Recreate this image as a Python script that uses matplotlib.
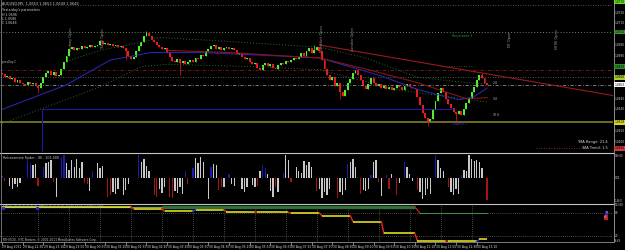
import matplotlib
matplotlib.use("Agg")
import matplotlib.pyplot as plt
from matplotlib.lines import Line2D
import numpy as np

# ---------------- data ----------------
first_open = 1.0664
closes = [
    1.0663, 1.0660, 1.0661, 1.0658, 1.0659, 1.0656, 1.0657, 1.0655, 1.0654, 1.0653,
    1.0656, 1.0654, 1.0655, 1.0652, 1.0650,
    1.0655, 1.0660, 1.0664,
    1.0666, 1.0662, 1.0665, 1.0661, 1.0662,
    1.0668, 1.0674,
    1.0680, 1.0686,
    1.0688, 1.0685, 1.0687, 1.0686, 1.0689, 1.0687, 1.0688, 1.0690, 1.0688, 1.0689, 1.0690,
    1.0694,
    1.0691, 1.0692, 1.0690, 1.0691, 1.0689, 1.0690, 1.0688, 1.0689, 1.0687,
    1.0684, 1.0680, 1.0677, 1.0679,
    1.0684, 1.0689, 1.0693, 1.0698, 1.0701,
    1.0698, 1.0695, 1.0693, 1.0690, 1.0688, 1.0686, 1.0687, 1.0683,
    1.0679, 1.0675, 1.0674,
    1.0677, 1.0673, 1.0675, 1.0672, 1.0674, 1.0676,
    1.0674, 1.0678, 1.0677, 1.0681, 1.0680, 1.0684, 1.0686, 1.0689, 1.0690,
    1.0686, 1.0688, 1.0685, 1.0687, 1.0688, 1.0686, 1.0687, 1.0685,
    1.0682, 1.0683, 1.0679, 1.0677, 1.0678, 1.0674, 1.0672, 1.0673, 1.0669, 1.0667,
    1.0671, 1.0673, 1.0670, 1.0672, 1.0669, 1.0668,
    1.0671, 1.0673, 1.0672, 1.0675, 1.0674, 1.0676, 1.0678, 1.0677, 1.0679,
    1.0683, 1.0680, 1.0684, 1.0687, 1.0683, 1.0685, 1.0688, 1.0684,
    1.0676, 1.0668, 1.0662, 1.0657,
    1.0660, 1.0652, 1.0655, 1.0646, 1.0643,
    1.0648, 1.0655, 1.0658, 1.0664, 1.0667,
    1.0662, 1.0657, 1.0652, 1.0649,
    1.0654, 1.0659, 1.0655, 1.0652,
    1.0654, 1.0650, 1.0652, 1.0649, 1.0651, 1.0648, 1.0650, 1.0653, 1.0651, 1.0648,
    1.0652, 1.0654, 1.0651, 1.0650, 1.0649,
    1.0642, 1.0634, 1.0627, 1.0622,
    1.0619, 1.0621,
    1.0630, 1.0638, 1.0645, 1.0650,
    1.0646, 1.0640, 1.0635, 1.0631, 1.0628,
    1.0626, 1.0629, 1.0625, 1.0630,
    1.0636, 1.0641, 1.0646, 1.0651,
    1.0657, 1.0662,
    1.0659, 1.0655, 1.0653,
]
wick_high = {56: 1.0703, 38: 1.0695, 186: 1.0664, 121: 1.0690}
wick_low = {14: 1.0645, 69: 1.0662, 131: 1.0640, 165: 1.0615, 176: 1.0617, 48: 1.0676}

# overlay indicator lines: (bar index, price)
ma_blue_i = [0, 25, 42, 58, 77, 115, 123, 146, 162, 177, 183, 188]
ma_blue_p = [1.0630, 1.0653, 1.0676, 1.0683, 1.0683, 1.0679, 1.0678, 1.0662, 1.0648, 1.0639, 1.0642, 1.0650]
band_up_i = [24, 38, 55, 61, 90, 123, 141, 161, 180, 188]
band_up_p = [1.0674, 1.0685, 1.0693, 1.0697, 1.0693, 1.0688, 1.0678, 1.0660, 1.0655, 1.0654]
band_lo_i = [0, 38, 54, 64, 96, 123, 154, 188]
band_lo_p = [1.0617, 1.0651, 1.0670, 1.0672, 1.0670, 1.0667, 1.0648, 1.0637]
tma_mid_i = [64, 88, 115, 123, 142, 161, 180, 188]
tma_mid_p = [1.0685, 1.0683, 1.0679, 1.0678, 1.0667, 1.0655, 1.0640, 1.0641]
trend_i = [123, 236.8]
trend_p = [1.0690, 1.0643]

# histogram (Retracement Finder)
hist_vals = [
    10, -18, 0, -50, -70, -40, -60, -30, 0, 0,
    120, 90, 80, 85, -50, 0, 70, 95, 100, 110,
    -25, -120, 0, 130, 140, 90, 50, 110, 70, 120,
    60, 100, -35, -40, -80, 40, 0, 90, 60, 75,
    0, -120, -110, -90, -100, -70, 0, -110, -75, -40,
    0, 0, 0, 140, 100, 120, 75, 45, 0, -110,
    -120, -70, -95, -60, 0, -120, -125, -80, -95, -60,
    -100, 45, -40, 0, 60, 125, 90, 130, 100, 0,
    -130, 70, 85, 80, -75, -60, -55, 0, 25, -40,
    -50, 0, 0, -70, -90, -55, 0, -45, -60, -50,
    45, 80, 60, 25, -80, -120, -60, -90, 0, 30,
    140, 110, -25, 0, 65, 45, 30, 105, 80, 100,
    70, 0, -80, -70, -125, -90, -110, -70, 0, 0,
    -125, -90, -110, -75, 85, 100, 120, 70, 0, -100,
    -75, -80, -70, 15, 100, 110, -25, -115, 0, 20,
    -70, 25, 0, -110, -35, 0, 100, 65, 25, -20,
    0, -75, -90, -130, -110, -70, -100, 0, 140, 110,
    60, 45, 0, -55, -90, -110, -70, -100, 20, 50,
    45, 140, 115, 105, 110, 100, 60, 0, -140,
]
hist_cols = ("brwwwwwwww" "bbwwrwbwww" "rwwbbwwwww" "wwrrwbwwww" "wrrwwwwwww"
             "wwwbwwwwwr" "rwwwwrrwww" "wbrwbwwwww" "wbwwrrwwbw" "wwwwwwwwwr"
             "wbbwwwrwwb" "wwrwwwwwww" "wwrwwwwwww" "rwwwbwwwwr" "wwwbwwrwwb"
             "rwwrwwbwww" "wrwwwwwwbw" "wwwrwwwwbw" "wwwwwwwwr")

# staircase indicator (bottom panel)
stair_start = [0, 51, 63, 75, 87, 99, 112, 124, 136, 148, 161, 173, 185]
stair_end = [50, 62, 74, 86, 98, 111, 123, 135, 147, 160, 172, 184, 188]
stair_val = [95, 91, 85, 88, 84, 82, 80, 73, 58, 27, 8, 6, 12]
band_start, band_end, band_val = 62, 160, 96
tail_start, tail_end, tail_val = 162, 188, 80

time_labels = ["29 Aug 2011", "29 Aug 22:30", "29 Aug 23:10", "29 Aug 23:50", "30 Aug 00:30",
               "30 Aug 01:10", "30 Aug 01:50", "30 Aug 02:30", "30 Aug 03:10", "30 Aug 03:50",
               "30 Aug 04:30", "30 Aug 05:10", "30 Aug 05:50", "30 Aug 06:30", "30 Aug 07:10",
               "30 Aug 07:50", "30 Aug 08:30", "30 Aug 09:10", "30 Aug 09:50", "30 Aug 10:30",
               "30 Aug 11:10", "30 Aug 11:50", "30 Aug 12:30", "30 Aug 13:10"]
time_label_idx = [8 * k for k in range(len(time_labels))]
hour_idx = [2 + 12 * k for k in range(1, 16)]

session_names = ["Sydney Open", "Tokyo Open", "Frankfurt Open", "London Open", "NY Open", "NYSE Open"]
session_idx = [26.7, 39.1, 124, 136, 197, 215]

axis_prices = [1.0720, 1.0710, 1.0690, 1.0680, 1.0640, 1.0630, 1.0610, 1.0600]
hl_prices = [1.0730, 1.0702, 1.0670, 1.0660, 1.0653, 1.0618, 1.0594]
hl_colors = ["#66dd22", "#3c9a2c", "#2f8f2f", "#a8d030", "#ffffff", "#d8d820", "#d23a3a"]

# ---------------- figure ----------------
W, H = 625, 250
RIGHT = 613
fig = plt.figure(figsize=(W / 100, H / 100), dpi=100, facecolor="black")
XL = (-0.775, 236.8)
P_TOP = 1.0650 + 88 / 10750
P_BOT = 1.0650 - 64 / 10750


def mk_ax(top, bottom, ylim):
    ax = fig.add_axes([0, 1 - bottom / H, RIGHT / W, (bottom - top) / H])
    ax.set_facecolor("black")
    ax.set_xlim(*XL)
    ax.set_ylim(*ylim)
    ax.set_xticks([])
    ax.set_yticks([])
    for s in ax.spines.values():
        s.set_visible(False)
    return ax


def ftext(x, y, s, **kw):
    kw.setdefault("fontsize", 2.3)
    kw.setdefault("color", "#d0d0d0")
    kw.setdefault("va", "center")
    return fig.text(x / W, 1 - y / H, s, **kw)


def price_y(p):
    return 88 - (p - 1.0650) * 10750


ax1 = mk_ax(0, 152, (P_BOT, P_TOP))
ax2 = mk_ax(152.5, 203, (-158, 158))
ax3 = mk_ax(203.5, 242, (4.5, 105))

# ---- main panel ----
dot = (0, (1, 2))
ax1.axhline(1.0727, color="#4f7a4f", ls=dot, lw=0.6)
ax1.axhline(1.0702, color="#5c8a5c", ls=dot, lw=0.7)
ax1.axhline(1.0667, color="#8b1a1a", ls=(0, (4, 2, 1, 2)), lw=0.6)
ax1.axhline(1.0660, color="#707070", ls=dot, lw=0.6)
ax1.axhline(1.0653, color="#8a8a8a", ls=(0, (4, 2, 1, 2)), lw=0.6)
ax1.axhline(1.0618, color="#6e6e1e", lw=1.4)
ax1.plot([15.5, 175], [1.0630, 1.0630], color="#1c1c9a", lw=0.8)
ax1.plot([15.5, 15.5], [1.0630, P_BOT], color="#1c1c9a", lw=0.8)
ax1.plot([170, 182], [1.0670, 1.0670], color="#2f6f2f", ls=dot, lw=0.6)
ax1.plot([207, 226], [1.05942, 1.05942], color="#b03030", ls=dot, lw=0.6)

ax1.plot(ma_blue_i, ma_blue_p, color="#2626a8", lw=0.8)
ax1.plot(band_up_i, band_up_p, color="#2f6a2f", ls=dot, lw=0.7)
ax1.plot(band_lo_i, band_lo_p, color="#2f6a2f", ls=dot, lw=0.7)
ax1.plot(tma_mid_i, tma_mid_p, color="#8a1515", lw=0.8)
ax1.plot(trend_i, trend_p, color="#9a1a1a", lw=0.8)

c = np.array(closes)
o = np.concatenate([[first_open], c[:-1]])
idx = np.arange(len(c))
hi = np.maximum(o, c)
lo = np.minimum(o, c)
for k, v in wick_high.items():
    if k < len(c):
        hi[k] = max(hi[k], v)
for k, v in wick_low.items():
    if k < len(c):
        lo[k] = min(lo[k], v)
bull = c >= o
cols = np.where(bull, "#4cf22a", "#ee1a1a")
ax1.vlines(idx, lo, hi, colors=cols, lw=0.5)
ax1.bar(idx, np.maximum(np.abs(c - o), 0.00005), bottom=np.minimum(o, c), width=0.75,
        color=cols, linewidth=0)

for s, xi in zip(session_names, session_idx):
    ax1.text(xi, 1.06956, s, rotation=90, fontsize=2.5, color="#9a9a9a",
             ha="center", va="center")

ftext(2, 4, "AUDUSD,M5  1.0653 1.0653 1.0649 1.0649", fontsize=2.5)
ftext(2, 10.5, "Yesterday's parameters", fontsize=2.3)
ftext(2, 14.5, "H 1.0696", fontsize=2.3)
ftext(2, 18.5, "L 1.0586", fontsize=2.3)
ftext(2, 22.5, "C 1.0648", fontsize=2.3)
ftext(2, 62, "prevDay C", fontsize=2.0, color="#c0c0c0")
ftext(452, 36, "Resistance 1", fontsize=2.3, color="#2f9a2f")
ftext(452, 124, "Support 1", fontsize=2.3, color="#2a2ad0")
ftext(493, 83, "2.0", fontsize=2.3, color="#b0b0b0")
ftext(493, 99, "5.0", fontsize=2.3, color="#b0b0b0")
ftext(493, 115, "10.0", fontsize=2.3, color="#b0b0b0")
ftext(608, 142, "TMA Range: 21.4", fontsize=2.6, ha="right", color="#d8d8d8")
ftext(608, 148, "TMA Trend: 1.5", fontsize=2.6, ha="right", color="#d8d8d8")

# right price axis
for p in axis_prices:
    ftext(614.5, price_y(p), f"{p:.4f}", fontsize=2.1, color="#d0d0d0")
for p, col in zip(hl_prices, hl_colors):
    ftext(614.5, price_y(p), f"{p:.4f}", fontsize=2.1, color="black",
          bbox=dict(boxstyle="square,pad=0.12", fc=col, ec="none"))

# ---- histogram panel ----
n = min(len(hist_vals), len(hist_cols))
cmap = {"w": "#c8c8c8", "b": "#1a1ab0", "r": "#a81414"}
ax2.bar(np.arange(n), hist_vals[:n], width=0.5,
        color=[cmap[ch] for ch in hist_cols[:n]], linewidth=0)
ftext(3, 158, "Retracement Finder - (8) - 103.000", fontsize=2.3)
ftext(614.5, 156, "146.00", fontsize=1.8)
ftext(614.5, 178, "0.00", fontsize=1.8)
ftext(614.5, 200.5, "-146.0", fontsize=1.8)

# ---- bottom panel ----
for h in hour_idx:
    ax3.axvline(h, color="#8a8a8a", ls=dot, lw=0.5)
ax3.axhline(80, color="#8a8a8a", ls=dot, lw=0.5)
ax3.axhline(20, color="#8a8a8a", ls=dot, lw=0.5)
ax3.plot([0, band_start], [band_val - 1, band_val - 1], color="#7aa060", lw=0.9)
ax3.plot([band_start, band_end], [band_val, band_val], color="#2f6f3a", lw=2.4,
         solid_capstyle="butt")
ax3.plot([band_end, tail_start], [band_val, tail_val], color="#cc2020", lw=0.9)
ax3.plot([tail_start, tail_end], [tail_val, tail_val], color="#3c8a4a", lw=0.8)
for k in range(len(stair_val)):
    ax3.plot([stair_start[k], stair_end[k]], [stair_val[k], stair_val[k]],
             color="#f0f020", lw=1.1, solid_capstyle="butt")
    if k + 1 < len(stair_val):
        col = "#dd2020" if stair_val[k + 1] < stair_val[k] else "#2a2ae0"
        ax3.plot([stair_end[k], stair_start[k + 1]], [stair_val[k], stair_val[k + 1]],
                 color=col, lw=1.1)
ax3.plot([0.5, 13.5], [94, 94], ls="none", marker="s", ms=1.3, color="#2a2ae0")
ftext(3, 206.5, "TPD(9)-(4)(4)(4)(4)(4)(4)  TPD(9)(4)(4)(4)(4)  94.70 84.50  1.0000 1.0000",
      fontsize=2.0, color="#9fb4d0")
ftext(3, 240, "RTH ECN - HTC Brokers, \u00a9 2001-2011 MetaQuotes Software Corp.",
      fontsize=2.1, color="#c8c8c8")
ftext(614.5, 205, "103.88", fontsize=1.8)
ftext(614.5, 212.7, "80", fontsize=2.0)
ftext(614.5, 236, "20", fontsize=2.0)
ftext(614.5, 241.5, "-6.63", fontsize=1.8)
ftext(608, 213, "Tr", fontsize=2.1, ha="right",
      bbox=dict(boxstyle="square,pad=0.1", fc="#2020c0", ec="none"))
ftext(608, 217.5, "dir", fontsize=2.1, ha="right",
      bbox=dict(boxstyle="square,pad=0.1", fc="#c02020", ec="none"))

# ---- time axis ----
for s, k in zip(time_labels, time_label_idx):
    xp = 2 + 2.58 * k
    ftext(xp + 0.5, 247, s, fontsize=2.2, color="#d8d8d8", ha="left")
    fig.add_artist(Line2D([xp / W, xp / W], [1 - 242 / H, 1 - 244.5 / H],
                          color="#b0b0b0", lw=0.5))

# ---- frame / separators ----
sep = "#c4c4c4"
for yy in (152.5, 203.5):
    fig.add_artist(Line2D([0, RIGHT / W], [1 - yy / H, 1 - yy / H], color=sep, lw=0.8))
fig.add_artist(Line2D([0, RIGHT / W], [1 - 242 / H, 1 - 242 / H], color="#909090", lw=0.6))
fig.add_artist(Line2D([RIGHT / W + 0.0008] * 2, [1 - 242 / H, 1.0], color="#a0a0a0", lw=0.6))
fig.add_artist(Line2D([0.0008, 0.0008], [1 - 242 / H, 1.0], color="#808080", lw=0.6))

fig.savefig("out.png", dpi=100, facecolor="black")
